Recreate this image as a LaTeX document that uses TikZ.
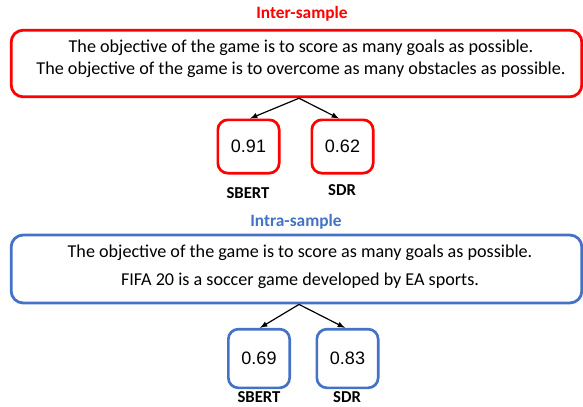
\documentclass[tikz,border=0pt]{standalone}
\usepackage{fontspec}
\setmainfont{Carlito}
\newfontfamily\numfont{Liberation Sans}
\usetikzlibrary{arrows}
\definecolor{boxred}{RGB}{255,0,0}
\definecolor{boxblue}{RGB}{68,114,196}

\begin{document}
\begin{tikzpicture}[x=0.75pt,y=-0.75pt,
    sentbox/.style={draw,rounded corners=9pt,line width=2.1pt,minimum width=428pt,minimum height=50pt,inner sep=0pt},
    scorebox/.style={draw,rounded corners=7.5pt,line width=2pt,minimum width=46pt,minimum height=40pt,inner sep=0pt,font=\numfont\fontsize{13.5}{16}\selectfont},
    sent/.style={font=\fontsize{13.6}{16.5}\selectfont},
    title/.style={font=\bfseries\fontsize{13}{15}\selectfont},
    metric/.style={font=\bfseries\fontsize{12.5}{15}\selectfont}]
  \useasboundingbox (0,0) rectangle (583,407);
  % inter-sample
  \node[title,text=boxred] (intert) at (302,14) {Inter-sample};
  \node[sentbox,draw=boxred] (interbox) at (296.5,63.5) {};
  \node[sent,align=center] (intertxt) at (301,59)
     {The objective of the game is to score as many goals as possible.\\
      The objective of the game is to overcome as many obstacles as possible.};
  \node[scorebox,draw=boxred] (a1) at (248.5,146.5) {0.91};
  \node[scorebox,draw=boxred] (a2) at (342.5,146.5) {0.62};
  \node[metric] (la1) at (248,193) {SBERT};
  \node[metric] (la2) at (342,190) {SDR};
  \path[-latex,line width=0.9pt] (interbox.south -| 299,0)
       edge (a1.north -| 250,0)
       edge (a2.north -| 339,0);
  % intra-sample
  \node[title,text=boxblue] (intrat) at (296,222) {Intra-sample};
  \node[sentbox,draw=boxblue,minimum height=51pt] (intrabox) at (296.5,269) {};
  \node[sent] (intratxt1) at (300,253)
     {The objective of the game is to score as many goals as possible.};
  \node[sent] (intratxt2) at (300,281)
     {FIFA 20 is a soccer game developed by EA sports.};
  \node[scorebox,draw=boxblue,minimum height=44pt] (b1) at (259,358.5) {0.69};
  \node[scorebox,draw=boxblue,minimum height=44pt] (b2) at (347.5,358.5) {0.83};
  \node[metric] (lb1) at (259,397.5) {SBERT};
  \node[metric] (lb2) at (347,397.5) {SDR};
  \path[-latex,line width=0.9pt] (intrabox.south -| 299,0)
       edge (b1.north -| 260,0)
       edge (b2.north -| 345,0);
\end{tikzpicture}
\end{document}
